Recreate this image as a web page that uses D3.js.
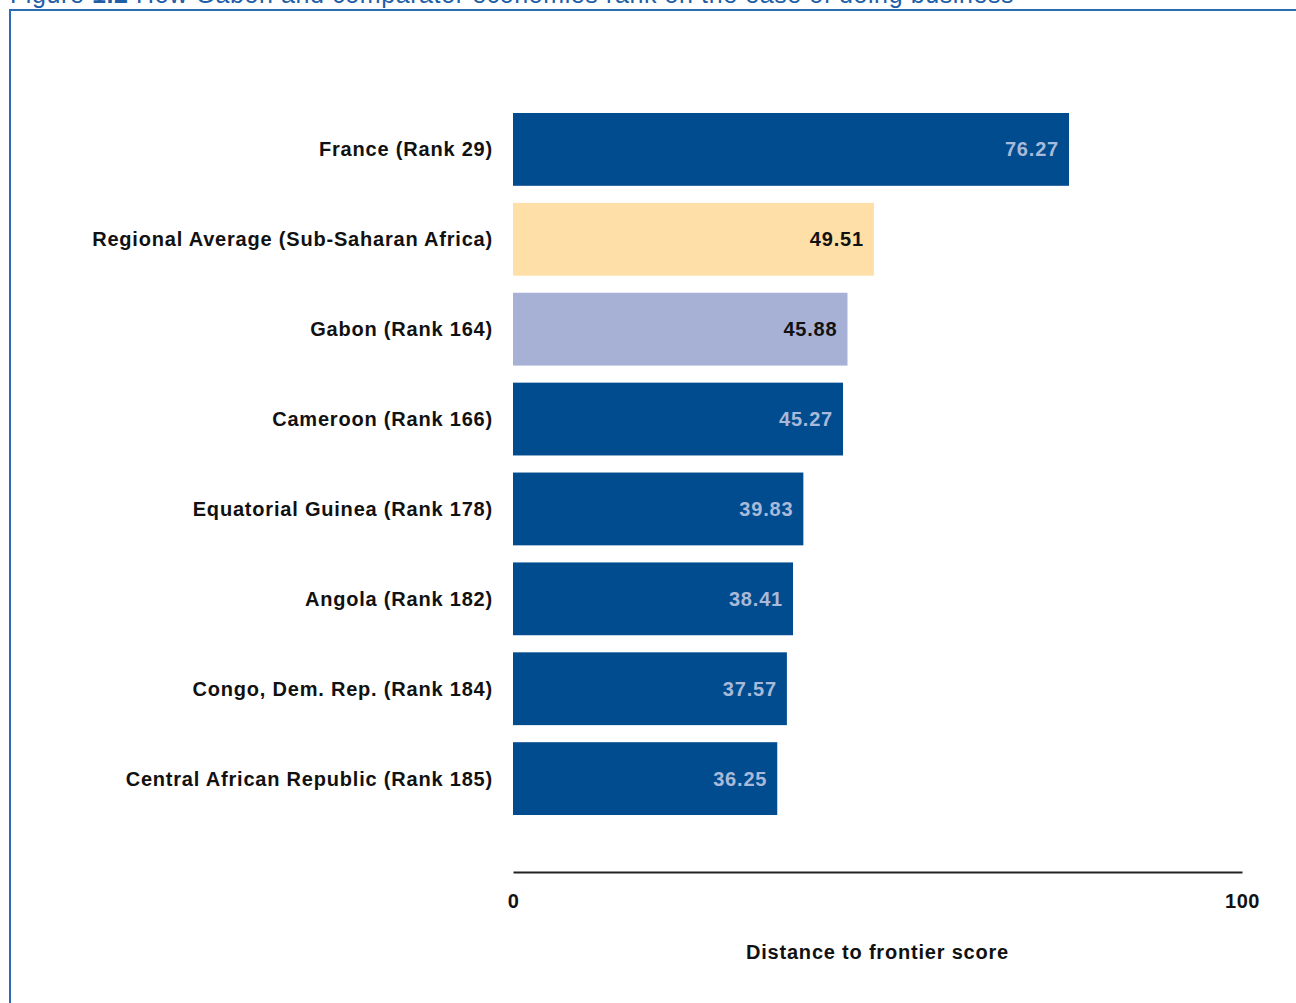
<!DOCTYPE html>
<html lang="en">
<head>
  <meta charset="UTF-8">
  <title>Ease of doing business</title>
  <script src="https://d3js.org/d3.v7.min.js"></script>
  <style>
    body { margin: 0; background: #fff; }
    svg { display: block; }
  </style>
</head>
<body>
<svg></svg>
<script>
  // data
  const economies = [
    'France (Rank 29)',
    'Regional Average (Sub-Saharan Africa)',
    'Gabon (Rank 164)',
    'Cameroon (Rank 166)',
    'Equatorial Guinea (Rank 178)',
    'Angola (Rank 182)',
    'Congo, Dem. Rep. (Rank 184)',
    'Central African Republic (Rank 185)'
  ]
  const scores = [76.27, 49.51, 45.88, 45.27, 39.83, 38.41, 37.57, 36.25]
  const kinds = ['comp', 'region', 'gabon', 'comp', 'comp', 'comp', 'comp', 'comp']
  const axisTicks = [0, 100]

  const width = 1296
  const height = 1003
  const font = "'Liberation Sans', Arial, sans-serif"

  const fillColor = k => k === 'region' ? '#fedfa7' : k === 'gabon' ? '#a6b1d5' : '#014c8e'
  const textColor = k => k === 'comp' ? '#a9b9d9' : '#111'

  const svg = d3.select('svg')
    .attr('width', width)
    .attr('height', height)

  // title, mostly cut off by the top of the page (as in the original)
  const title = svg.append('text')
    .attr('x', 10)
    .attr('y', 3)
    .attr('fill', '#1f5fa8')
    .style('font-family', font)
    .style('font-size', '25px')
    .style('letter-spacing', '0.6px')
  title.append('tspan').text('Figure ')
  title.append('tspan').style('font-weight', 'bold').text('1.2')
  title.append('tspan').text(' How Gabon and comparator economies rank on the ease of doing business')

  // blue frame
  svg.append('path')
    .attr('d', `M10,${height + 5} V10 H${width + 5}`)
    .attr('fill', 'none')
    .attr('stroke', '#2b6cb5')
    .attr('stroke-width', 2)

  const x = d3.scaleLinear().domain([0, 100]).range([513, 1242])
  const y = d3.scaleBand().domain(economies).range([104, 824]).paddingInner(0.19).paddingOuter(0.1)

  const rows = economies.map((name, i) => ({ name, score: scores[i], kind: kinds[i] }))

  const g = svg.append('g')

  g.selectAll('rect')
    .data(rows)
    .join('rect')
    .attr('x', x(0))
    .attr('y', d => y(d.name))
    .attr('width', d => x(d.score) - x(0))
    .attr('height', y.bandwidth())
    .attr('fill', d => fillColor(d.kind))

  // category labels
  g.selectAll('text.cat')
    .data(rows)
    .join('text')
    .attr('class', 'cat')
    .attr('x', x(0) - 20)
    .attr('y', d => y(d.name) + y.bandwidth() / 2)
    .attr('dy', '0.35em')
    .attr('text-anchor', 'end')
    .attr('fill', '#111')
    .style('font-family', font)
    .style('font-weight', 'bold')
    .style('font-size', '20px')
    .style('letter-spacing', '0.8px')
    .text(d => d.name)

  // value labels inside bars
  g.selectAll('text.val')
    .data(rows)
    .join('text')
    .attr('class', 'val')
    .attr('x', d => x(d.score) - 10)
    .attr('y', d => y(d.name) + y.bandwidth() / 2)
    .attr('dy', '0.35em')
    .attr('text-anchor', 'end')
    .attr('fill', d => textColor(d.kind))
    .style('font-family', font)
    .style('font-weight', 'bold')
    .style('font-size', '20px')
    .style('letter-spacing', '0.8px')
    .text(d => d.score.toFixed(2))

  // x axis
  const axis = svg.append('g')
    .attr('transform', 'translate(0,872)')
    .call(d3.axisBottom(x).tickValues(axisTicks).tickSize(0).tickPadding(22))
  axis.select('.domain').attr('stroke', '#222').attr('stroke-width', 2)
  axis.selectAll('text')
    .attr('fill', '#111')
    .style('font-family', font)
    .style('font-weight', 'bold')
    .style('font-size', '20px')
    .style('letter-spacing', '0.6px')

  svg.append('text')
    .attr('x', (x(0) + x(100)) / 2)
    .attr('y', 959)
    .attr('text-anchor', 'middle')
    .attr('fill', '#111')
    .style('font-family', font)
    .style('font-weight', 'bold')
    .style('font-size', '20px')
    .style('letter-spacing', '0.8px')
    .text('Distance to frontier score')
</script>
</body>
</html>
